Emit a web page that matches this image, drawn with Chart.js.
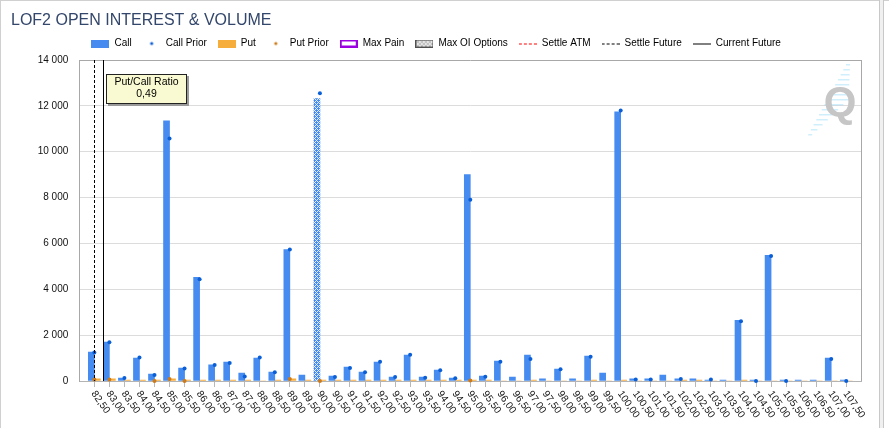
<!DOCTYPE html>
<html>
<head>
<meta charset="utf-8">
<title>LOF2 Open Interest & Volume</title>
<script src="https://cdn.jsdelivr.net/npm/chart.js@4.4.1/dist/chart.umd.min.js"></script>
<style>
  html, body { margin: 0; padding: 0; background: #fff; }
  #wrap { position: relative; width: 889px; height: 428px; }
</style>
</head>
<body>
<div id="wrap"><canvas id="oi" width="889" height="428"></canvas></div>
<script>
// strikes (x categories)
const strikes = [82.5, 83, 83.5, 84, 84.5, 85, 85.5, 86, 86.5, 87, 87.5, 88, 88.5, 89, 89.5,
  90, 90.5, 91, 91.5, 92, 92.5, 93, 93.5, 94, 94.5, 95, 95.5, 96, 96.5, 97, 97.5, 98, 98.5,
  99, 99.5, 100, 100.5, 101, 101.5, 102, 102.5, 103, 103.5, 104, 104.5, 105, 105.5, 106,
  106.5, 107, 107.5];

const callOI = [1260, 1700, 130, 1000, 300, 11350, 565, 4520, 700, 830, 350, 1000, 390, 5730, 260,
  12320, 220, 610, 390, 830, 175, 1130, 175, 480, 130, 9000, 220, 870, 175, 1130, 90, 520, 90,
  1090, 350, 11740, 90, 90, 260, 90, 90, 45, 45, 2650, 45, 5480, 45, 45, 45, 1000, 45];

const callPrior = [1240, 1690, 130, 1030, 260, 10580, 540, 4440, 700, 780, 200, 1030, 380, 5740, null,
  12550, 175, 565, 380, 840, 175, 1150, 145, 465, 115, 7910, 190, 840, null, 960, null, 510, null,
  1060, null, 11800, 60, 70, null, 90, null, 70, null, 2610, 0, 5450, 0, null, null, 960, 0];

const putOI = [90, 90, 45, 45, 45, 90, 45, 45, 45, 45, 45, 0, 45, 90, 45,
  45, 45, 45, 45, 45, 45, 45, 45, 45, 45, 45, 45, 0, 0, 45, 0, 0, 0,
  45, 0, 45, 0, 0, 0, 45, 45, 0, 0, 45, 0, 0, 0, 0, 0, 0, 0];

const putPrior = [70, 70, null, null, 0, 90, 0, null, null, null, null, null, null, 90, null,
  0, null, null, null, null, null, null, null, null, null, 20, null, null, null, null, null, null, null,
  null, null, null, null, null, null, null, null, null, null, null, null, null, null, null, null, null, null];

const yTicks = [0, 2000, 4000, 6000, 8000, 10000, 12000, 14000];

const maxOIStrike = 90;
const settleFuture = 82.5;
const currentFuture = 82.8;
const putCallRatio = 0.49;

const callColor = "#458bf0";
const callPriorColor = "#0b5fd6";
const putColor = "#f7ad3c";
const putPriorColor = "#cc7a1a";
const maxPainColor = "#9a00e0";

Chart.defaults.font.family = '"Liberation Sans", Arial, sans-serif';
Chart.defaults.font.size = 10;
Chart.defaults.color = "#111";

function fmtThousands(v) {
  return String(v).replace(/\B(?=(\d{3})+(?!\d))/g, " ");
}
function fmtStrike(v) {
  return v.toFixed(2).replace(".", ",");
}

// crosshatch fill used for the Max OI bar
function hatchTile(bg, fg) {
  const t = document.createElement("canvas");
  t.width = 4;
  t.height = 4;
  const c = t.getContext("2d");
  c.fillStyle = bg;
  c.fillRect(0, 0, 4, 4);
  c.fillStyle = fg;
  [[0, 0], [1, 1], [2, 2], [3, 3], [1, 3], [3, 1]].forEach(function(p) {
    c.fillRect(p[0], p[1], 1, 1);
  });
  return t;
}
const hatchPattern = document.createElement("canvas").getContext("2d")
  .createPattern(hatchTile(callColor, "#e4eefd"), "repeat");

// legend icons
function icon(draw) {
  const c = document.createElement("canvas");
  c.width = 18;
  c.height = 8;
  draw(c.getContext("2d"));
  return c;
}
function dashes(c, color) {
  c.fillStyle = color;
  for (let x = 0; x < 18; x += 5) c.fillRect(x, 4, 3, 1);
}
const legendItems = [
  { text: "Call", icon: icon(function(c) { c.fillStyle = callColor; c.fillRect(0, 0, 18, 8); }) },
  { text: "Call Prior", icon: icon(function(c) { c.fillStyle = callPriorColor; c.beginPath(); c.arc(9, 4, 1.6, 0, Math.PI * 2); c.fill(); }) },
  { text: "Put", icon: icon(function(c) { c.fillStyle = putColor; c.fillRect(0, 0, 18, 8); }) },
  { text: "Put Prior", icon: icon(function(c) { c.fillStyle = putPriorColor; c.beginPath(); c.arc(9, 4, 1.6, 0, Math.PI * 2); c.fill(); }) },
  { text: "Max Pain", icon: icon(function(c) { c.fillStyle = "#fff"; c.fillRect(0, 0, 18, 8); c.strokeStyle = maxPainColor; c.lineWidth = 2; c.strokeRect(1, 1, 16, 6); }) },
  { text: "Max OI Options", icon: icon(function(c) {
      c.fillStyle = c.createPattern(hatchTile("#ffffff", "#8a8a8a"), "repeat");
      c.fillRect(0, 0, 18, 8);
      c.strokeStyle = "#505050"; c.lineWidth = 1; c.strokeRect(0.5, 0.5, 17, 7);
    }) },
  { text: "Settle ATM", icon: icon(function(c) { dashes(c, "#ff0000"); }) },
  { text: "Settle Future", icon: icon(function(c) { dashes(c, "#000"); }) },
  { text: "Current Future", icon: icon(function(c) { c.fillStyle = "#000"; c.fillRect(0, 4, 18, 1); }) }
];

// small gap between the legend and the plot
const spacer = {
  id: "spacer",
  beforeInit(chart) {
    Chart.layouts.addBox(chart, {
      position: "top",
      weight: 0,
      fullSize: true,
      options: {},
      isHorizontal() { return true; },
      update(w) { this.width = w; this.height = 1.5; },
      draw() {}
    });
  }
};

const extras = {
  id: "extras",
  beforeDatasetsDraw(chart) {
    // watermark logo, top right
    const ctx = chart.ctx;
    ctx.save();
    ctx.fillStyle = "rgba(150, 220, 250, 0.45)";
    for (let k = 0; k < 15; k++) {
      const y = 64 + k * 5;
      const x0 = 846 - k * 2.7;
      const len = k < 8 ? 4 + k * 2.5 : 4 + (14 - k) * 2.5;
      ctx.fillRect(x0, y, len, 1.5);
    }
    ctx.fillStyle = "#c6c6c6";
    ctx.font = 'bold 42px "Liberation Sans", Arial, sans-serif';
    ctx.textAlign = "center";
    ctx.textBaseline = "alphabetic";
    ctx.fillText("Q", 840, 116);
    ctx.restore();
  },
  afterDatasetsDraw(chart) {
    const ctx = chart.ctx;
    const a = chart.chartArea;
    const x = chart.scales.x;
    ctx.save();
    ctx.strokeStyle = "#000";
    ctx.lineWidth = 1;
    let px = Math.round(x.getPixelForValue(settleFuture)) + 0.5;
    ctx.setLineDash([3, 2]);
    ctx.beginPath(); ctx.moveTo(px, a.top); ctx.lineTo(px, a.bottom); ctx.stroke();
    px = Math.round(x.getPixelForValue(currentFuture)) + 0.5;
    ctx.setLineDash([]);
    ctx.beginPath(); ctx.moveTo(px, a.top); ctx.lineTo(px, a.bottom); ctx.stroke();
    // right border of plot
    ctx.strokeStyle = "#a8a8a8";
    ctx.beginPath(); ctx.moveTo(Math.round(a.right) + 0.5, a.top); ctx.lineTo(Math.round(a.right) + 0.5, a.bottom); ctx.stroke();
    ctx.restore();
  },
  afterDraw(chart) {
    const ctx = chart.ctx;
    const x = chart.scales.x;
    const bottom = chart.chartArea.bottom;
    ctx.save();
    // rotated strike labels
    ctx.fillStyle = "#111";
    ctx.font = '10px "Liberation Sans", Arial, sans-serif';
    ctx.textAlign = "left";
    ctx.textBaseline = "middle";
    strikes.forEach(function(s) {
      ctx.save();
      ctx.translate(x.getPixelForValue(s) - 1, bottom + 11);
      ctx.rotate(55 * Math.PI / 180);
      ctx.fillText(fmtStrike(s), 0, 0);
      ctx.restore();
    });
    // Put/Call ratio box
    const bx = 106, by = 74, bw = 81, bh = 30;
    ctx.fillStyle = "#9a9a9a";
    ctx.fillRect(bx + 2, by + 2, bw, bh);
    ctx.fillStyle = "#fafad2";
    ctx.fillRect(bx, by, bw, bh);
    ctx.strokeStyle = "#222";
    ctx.strokeRect(bx + 0.5, by + 0.5, bw - 1, bh - 1);
    ctx.fillStyle = "#000";
    ctx.textAlign = "center";
    ctx.font = '10.5px "Liberation Sans", Arial, sans-serif';
    ctx.fillText("Put/Call Ratio", bx + bw / 2, by + 8.5);
    ctx.fillText(putCallRatio.toFixed(2).replace(".", ","), bx + bw / 2, by + 20.5);
    // window frame
    ctx.fillStyle = "#d0d0d0";
    ctx.fillRect(0, 0, 889, 1);
    ctx.fillRect(0, 0, 1, 428);
    ctx.fillStyle = "#f0f0f0";
    ctx.fillRect(879, 0, 5, 428);
    ctx.fillStyle = "#c8c8c8";
    ctx.fillRect(879, 0, 1, 428);
    ctx.fillRect(883, 0, 1, 428);
    ctx.restore();
  }
};

const ctx = document.getElementById("oi").getContext("2d");
const chart = new Chart(ctx, {
  type: "bar",
  data: {
    datasets: [
      {
        label: "Call Prior",
        type: "line",
        data: strikes.map((s, i) => ({ x: s, y: callPrior[i] })),
        showLine: false,
        pointRadius: 2,
        pointBorderWidth: 0,
        pointBackgroundColor: callPriorColor,
        clip: false,
        order: 1
      },
      {
        label: "Put Prior",
        type: "line",
        data: strikes.map((s, i) => ({ x: s, y: putPrior[i] })),
        showLine: false,
        pointRadius: 2,
        pointBorderWidth: 0,
        pointBackgroundColor: putPriorColor,
        clip: false,
        order: 1
      },
      {
        label: "Call",
        data: strikes.map((s, i) => ({ x: s, y: callOI[i] })),
        backgroundColor: function(c) {
          return c.raw && c.raw.x === maxOIStrike ? hatchPattern : callColor;
        },
        borderWidth: 0,
        barThickness: 6,
        order: 2
      },
      {
        label: "Put",
        data: strikes.map((s, i) => ({ x: s, y: putOI[i] })),
        backgroundColor: putColor,
        borderWidth: 0,
        barThickness: 6,
        order: 2
      }
    ]
  },
  options: {
    responsive: false,
    animation: false,
    layout: { padding: { left: 11, right: 27.7, top: 0, bottom: 0 } },
    plugins: {
      title: {
        display: true,
        text: "LOF2 OPEN INTEREST & VOLUME",
        align: "start",
        color: "#33466b",
        font: { size: 16, weight: "normal", lineHeight: 1 },
        padding: { top: 13, bottom: -1.5 }
      },
      legend: {
        display: true,
        onClick: function() {},
        labels: {
          usePointStyle: true,
          pointStyleWidth: 18,
          padding: 11,
          color: "#000",
          font: { size: 10 },
          generateLabels: function() {
            return legendItems.map(function(it) {
              return {
                text: it.text,
                pointStyle: it.icon,
                fillStyle: "transparent",
                strokeStyle: "transparent",
                lineWidth: 0,
                hidden: false,
                fontColor: "#000"
              };
            });
          }
        }
      },
      tooltip: { enabled: false }
    },
    scales: {
      x: {
        type: "linear",
        min: 82,
        max: 108,
        offset: false,
        ticks: { display: false, stepSize: 0.5 },
        afterBuildTicks: function(s) { s.ticks = strikes.map(v => ({ value: v })); },
        grid: { display: true, offset: false, drawOnChartArea: false, drawTicks: true, tickLength: 6, color: "#b8b8b8" },
        border: { color: "#b4b4b4" },
        afterFit: function(s) { s.height = 47; }
      },
      y: {
        min: 0,
        max: 14000,
        afterBuildTicks: function(s) { s.ticks = yTicks.map(v => ({ value: v })); },
        ticks: { padding: 11, color: "#111", font: { size: 10 }, callback: v => fmtThousands(v) },
        grid: {
          drawTicks: false,
          color: function(c) {
            if (c.tick.value === 14000) return "#a8a8a8";
            if (c.tick.value === 0) return "#b4b4b4";
            return "#dcdcdc";
          }
        },
        border: { color: "#a8a8a8" },
        afterFit: function(s) { s.width = 68.3; }
      }
    }
  },
  plugins: [spacer, extras]
});
</script>
</body>
</html>
